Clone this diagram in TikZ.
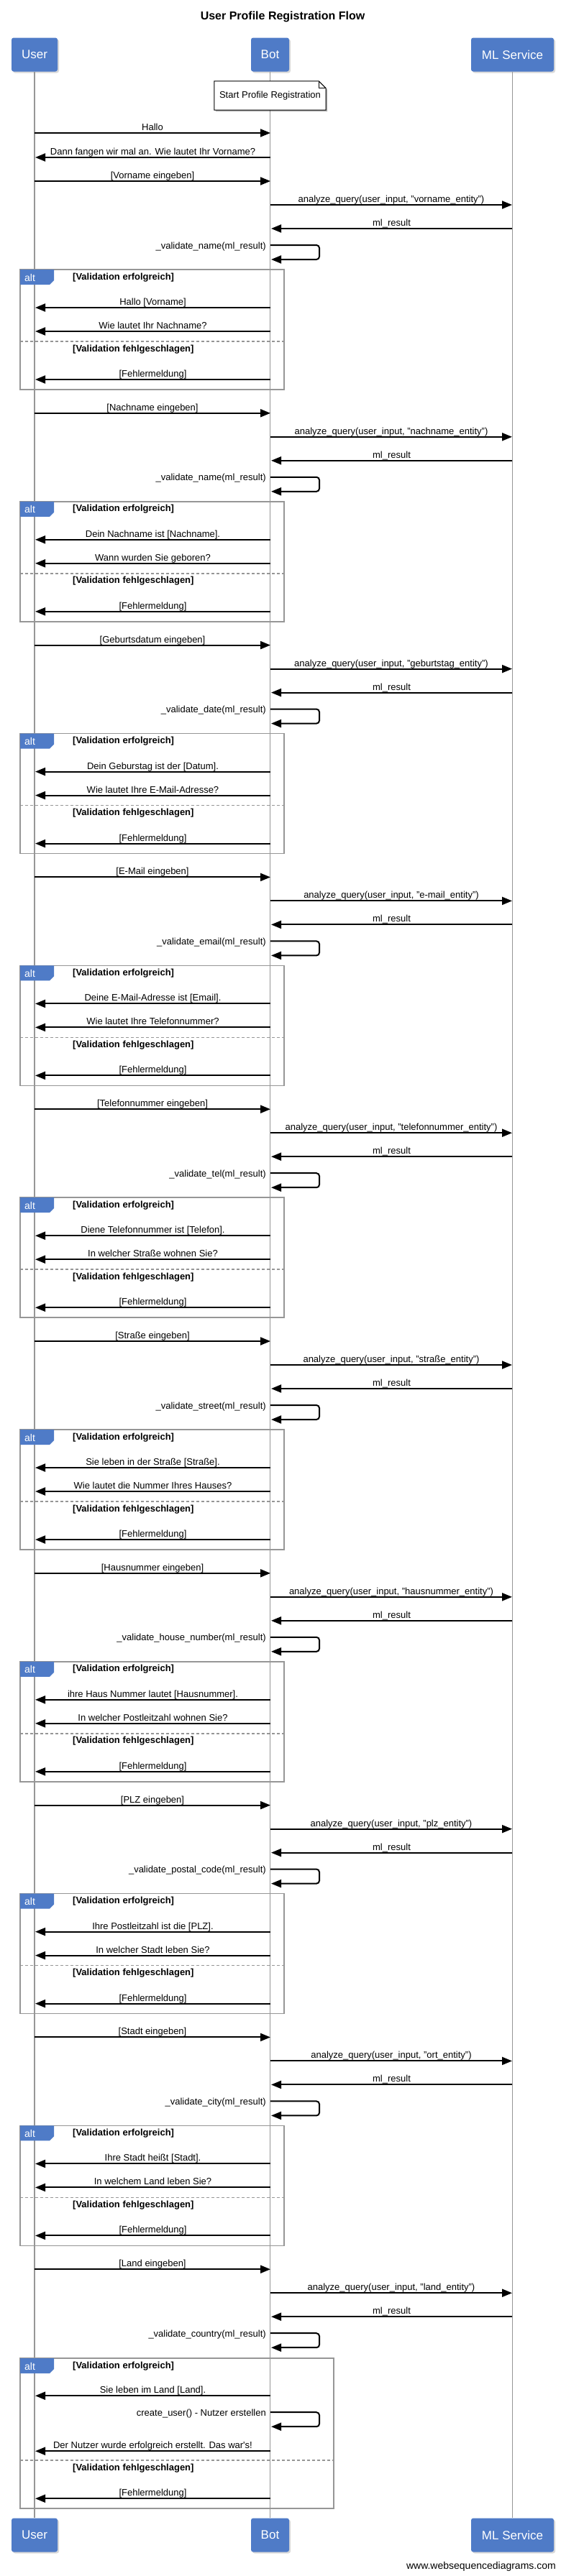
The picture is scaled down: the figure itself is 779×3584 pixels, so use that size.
\documentclass[tikz,border=0pt]{standalone}
\usepackage{fontspec}
\setmainfont{Liberation Sans}
\usetikzlibrary{arrows.meta,shadows}
\definecolor{actorblue}{RGB}{79,123,199}
\definecolor{linegray}{RGB}{150,150,150}
\newcommand{\msgfont}{\fontsize{13}{15}\selectfont}
\tikzset{
  actor/.style={fill=actorblue, rounded corners=3pt, text=white, font=\fontsize{17}{20}\selectfont,
    minimum height=47pt, inner sep=0pt, drop shadow={shadow xshift=2pt, shadow yshift=-2pt, opacity=0.3}},
  lifeline/.style={draw=linegray, line width=1.5pt},
  msg/.style={draw=black, line width=2pt, -{Triangle[length=14pt,width=11pt]}},
  lbl/.style={anchor=base, yshift=3.5pt, inner sep=0pt, font=\msgfont},
  selflbl/.style={anchor=base east, inner sep=0pt, font=\msgfont},
  altbox/.style={draw=linegray, line width=1.5pt},
  altdash/.style={draw=linegray, line width=1.5pt, dash pattern=on 4pt off 3pt},
  alttxt/.style={anchor=west, inner sep=0pt, text=white, font=\fontsize{14}{16}\selectfont},
  condtxt/.style={anchor=base west, inner sep=0pt, font=\bfseries\msgfont},
}
% request part of a block
\newcommand{\reqpart}[5]{%
  \coordinate (u#1i) at (48,#2);
  \coordinate (b#1i) at (376,#2);
  \draw[msg] (u#1i) -- node[lbl] (t#1i) {#3} (b#1i);
  \coordinate (b#1q) at (376,#2+33);
  \coordinate (m#1q) at (712,#2+33);
  \draw[msg] (b#1q) -- node[lbl] (t#1q) {analyze\_query(user\_input, "#4\_entity")} (m#1q);
  \coordinate (m#1r) at (712,#2+66);
  \coordinate (b#1r) at (377,#2+66);
  \draw[msg] (m#1r) -- node[lbl] (t#1r) {ml\_result} (b#1r);
  \coordinate (b#1v) at (376,#2+89);
  \coordinate (b#1w) at (377,#2+109);
  \draw[msg, rounded corners=4pt] (b#1v) -- ++(68,0) |- (b#1w);
  \node[selflbl] (t#1v) at (370,#2+94) {\_validate\_#5(ml\_result)};
}
% alt frame
\newcommand{\altframe}[5]{%
  \coordinate (a#1tl) at (28,#2);
  \coordinate (a#1br) at (#3,#4);
  \draw[altbox] (a#1tl) rectangle (a#1br);
  \coordinate (a#1dl) at (28,#5);
  \coordinate (a#1dr) at (#3,#5);
  \draw[altdash] (a#1dl) -- (a#1dr);
  \fill[actorblue] (a#1tl) -- ++(47,0) -- ++(0,15) -- ++(-6,6) -- ++(-41,0) -- cycle;
  \node[alttxt] (a#1t) at (34,#2+11) {alt};
  \node[condtxt] (a#1c1) at (101,#2+14) {[Validation erfolgreich]};
  \node[condtxt] (a#1c2) at (101,#5+14) {[Validation fehlgeschlagen]};
}
% bot -> user message
\newcommand{\botmsg}[3]{%
  \coordinate (b#1) at (376,#2);
  \coordinate (u#1) at (49,#2);
  \draw[msg] (b#1) -- node[lbl] (t#1) {#3} (u#1);
}
\newcommand{\regblock}[7]{%
  \reqpart{#1}{#2}{#3}{#4}{#5}
  \altframe{#1}{#2+123}{395}{#2+290}{#2+223}
  \botmsg{#1s}{#2+176}{#6}
  \botmsg{#1t}{#2+209}{#7}
  \botmsg{#1f}{#2+276}{[Fehlermeldung]}
}
\begin{document}
\begin{tikzpicture}[x=1pt,y=-1pt]
\useasboundingbox (0,0) rectangle (779,3584);
% title
\node[font=\bfseries\fontsize{16}{19}\selectfont, inner sep=0pt] (title) at (393,23) {User Profile Registration Flow};
% actors
\node[actor, minimum width=64pt] (user) at (48,76) {User};
\node[actor, minimum width=53pt] (bot) at (375.5,76) {Bot};
\node[actor, minimum width=115pt] (ml) at (712.5,76) {ML Service};
\node[actor, minimum width=64pt] (userb) at (48,3527) {User};
\node[actor, minimum width=53pt] (botb) at (375.5,3527) {Bot};
\node[actor, minimum width=115pt] (mlb) at (712.5,3527) {ML Service};
% lifelines
\begin{scope}[on background layer/.style={}]
\draw[lifeline] (user) -- (userb);
\draw[lifeline] (bot) -- (botb);
\draw[lifeline] (ml) -- (mlb);
\end{scope}
% note
\node[minimum width=155pt, minimum height=40pt, inner sep=0pt, font=\msgfont] (note) at (375.5,133) {};
\fill[black, opacity=0.3] ([shift={(2pt,-2pt)}]note.north west) -- ([shift={(-8pt,-2pt)}]note.north east)
  -- ([shift={(2pt,-12pt)}]note.north east) -- ([shift={(2pt,-2pt)}]note.south east)
  -- ([shift={(2pt,-2pt)}]note.south west) -- cycle;
\draw[fill=white, line width=1pt] (note.north west) -- ([xshift=-10pt]note.north east)
  -- ([yshift=-10pt]note.north east) -- (note.south east) -- (note.south west) -- cycle;
\draw[line width=0.8pt] ([xshift=-10pt]note.north east) -- ([xshift=-10pt,yshift=-10pt]note.north east)
  -- ([yshift=-10pt]note.north east);
\node[font=\msgfont, inner sep=0pt] (notetxt) at (note.center) {Start Profile Registration};
% opening messages
\coordinate (u0a) at (48,185);
\coordinate (b0a) at (376,185);
\draw[msg] (u0a) -- node[lbl] (t0a) {Hallo} (b0a);
\coordinate (b0b) at (376,219);
\coordinate (u0b) at (49,219);
\draw[msg] (b0b) -- node[lbl] (t0b) {Dann fangen wir mal an. Wie lautet Ihr Vorname?} (u0b);
% blocks
\regblock{1}{252}{[Vorname eingeben]}{vorname}{name}{Hallo [Vorname]}{Wie lautet Ihr Nachname?}
\regblock{2}{574.8}{[Nachname eingeben]}{nachname}{name}{Dein Nachname ist [Nachname].}{Wann wurden Sie geboren?}
\regblock{3}{897.6}{[Geburtsdatum eingeben]}{geburtstag}{date}{Dein Geburstag ist der [Datum].}{Wie lautet Ihre E-Mail-Adresse?}
\regblock{4}{1220.4}{[E-Mail eingeben]}{e-mail}{email}{Deine E-Mail-Adresse ist [Email].}{Wie lautet Ihre Telefonnummer?}
\regblock{5}{1543.2}{[Telefonnummer eingeben]}{telefonnummer}{tel}{Diene Telefonnummer ist [Telefon].}{In welcher Straße wohnen Sie?}
\regblock{6}{1866}{[Straße eingeben]}{straße}{street}{Sie leben in der Straße [Straße].}{Wie lautet die Nummer Ihres Hauses?}
\regblock{7}{2188.8}{[Hausnummer eingeben]}{hausnummer}{house\_number}{ihre Haus Nummer lautet [Hausnummer].}{In welcher Postleitzahl wohnen Sie?}
\regblock{8}{2511.6}{[PLZ eingeben]}{plz}{postal\_code}{Ihre Postleitzahl ist die [PLZ].}{In welcher Stadt leben Sie?}
\regblock{9}{2834.4}{[Stadt eingeben]}{ort}{city}{Ihre Stadt heißt [Stadt].}{In welchem Land leben Sie?}
% last block
\reqpart{10}{3157.2}{[Land eingeben]}{land}{country}
\altframe{10}{3281.2}{464}{3490.2}{3423.2}
\botmsg{10s}{3333.2}{Sie leben im Land [Land].}
\coordinate (b10c) at (376,3356.2);
\coordinate (b10d) at (377,3376.2);
\draw[msg, rounded corners=4pt] (b10c) -- ++(68,0) |- (b10d);
\node[selflbl] (t10c) at (370,3361.2) {create\_user() - Nutzer erstellen};
\botmsg{10n}{3410.2}{Der Nutzer wurde erfolgreich erstellt. Das war\textquotesingle s!}
\botmsg{10f}{3476.2}{[Fehlermeldung]}
% watermark
\node[anchor=base east, inner sep=0pt, font=\fontsize{14}{16}\selectfont] (wm) at (773,3574) {www.websequencediagrams.com};
\end{tikzpicture}
\end{document}
